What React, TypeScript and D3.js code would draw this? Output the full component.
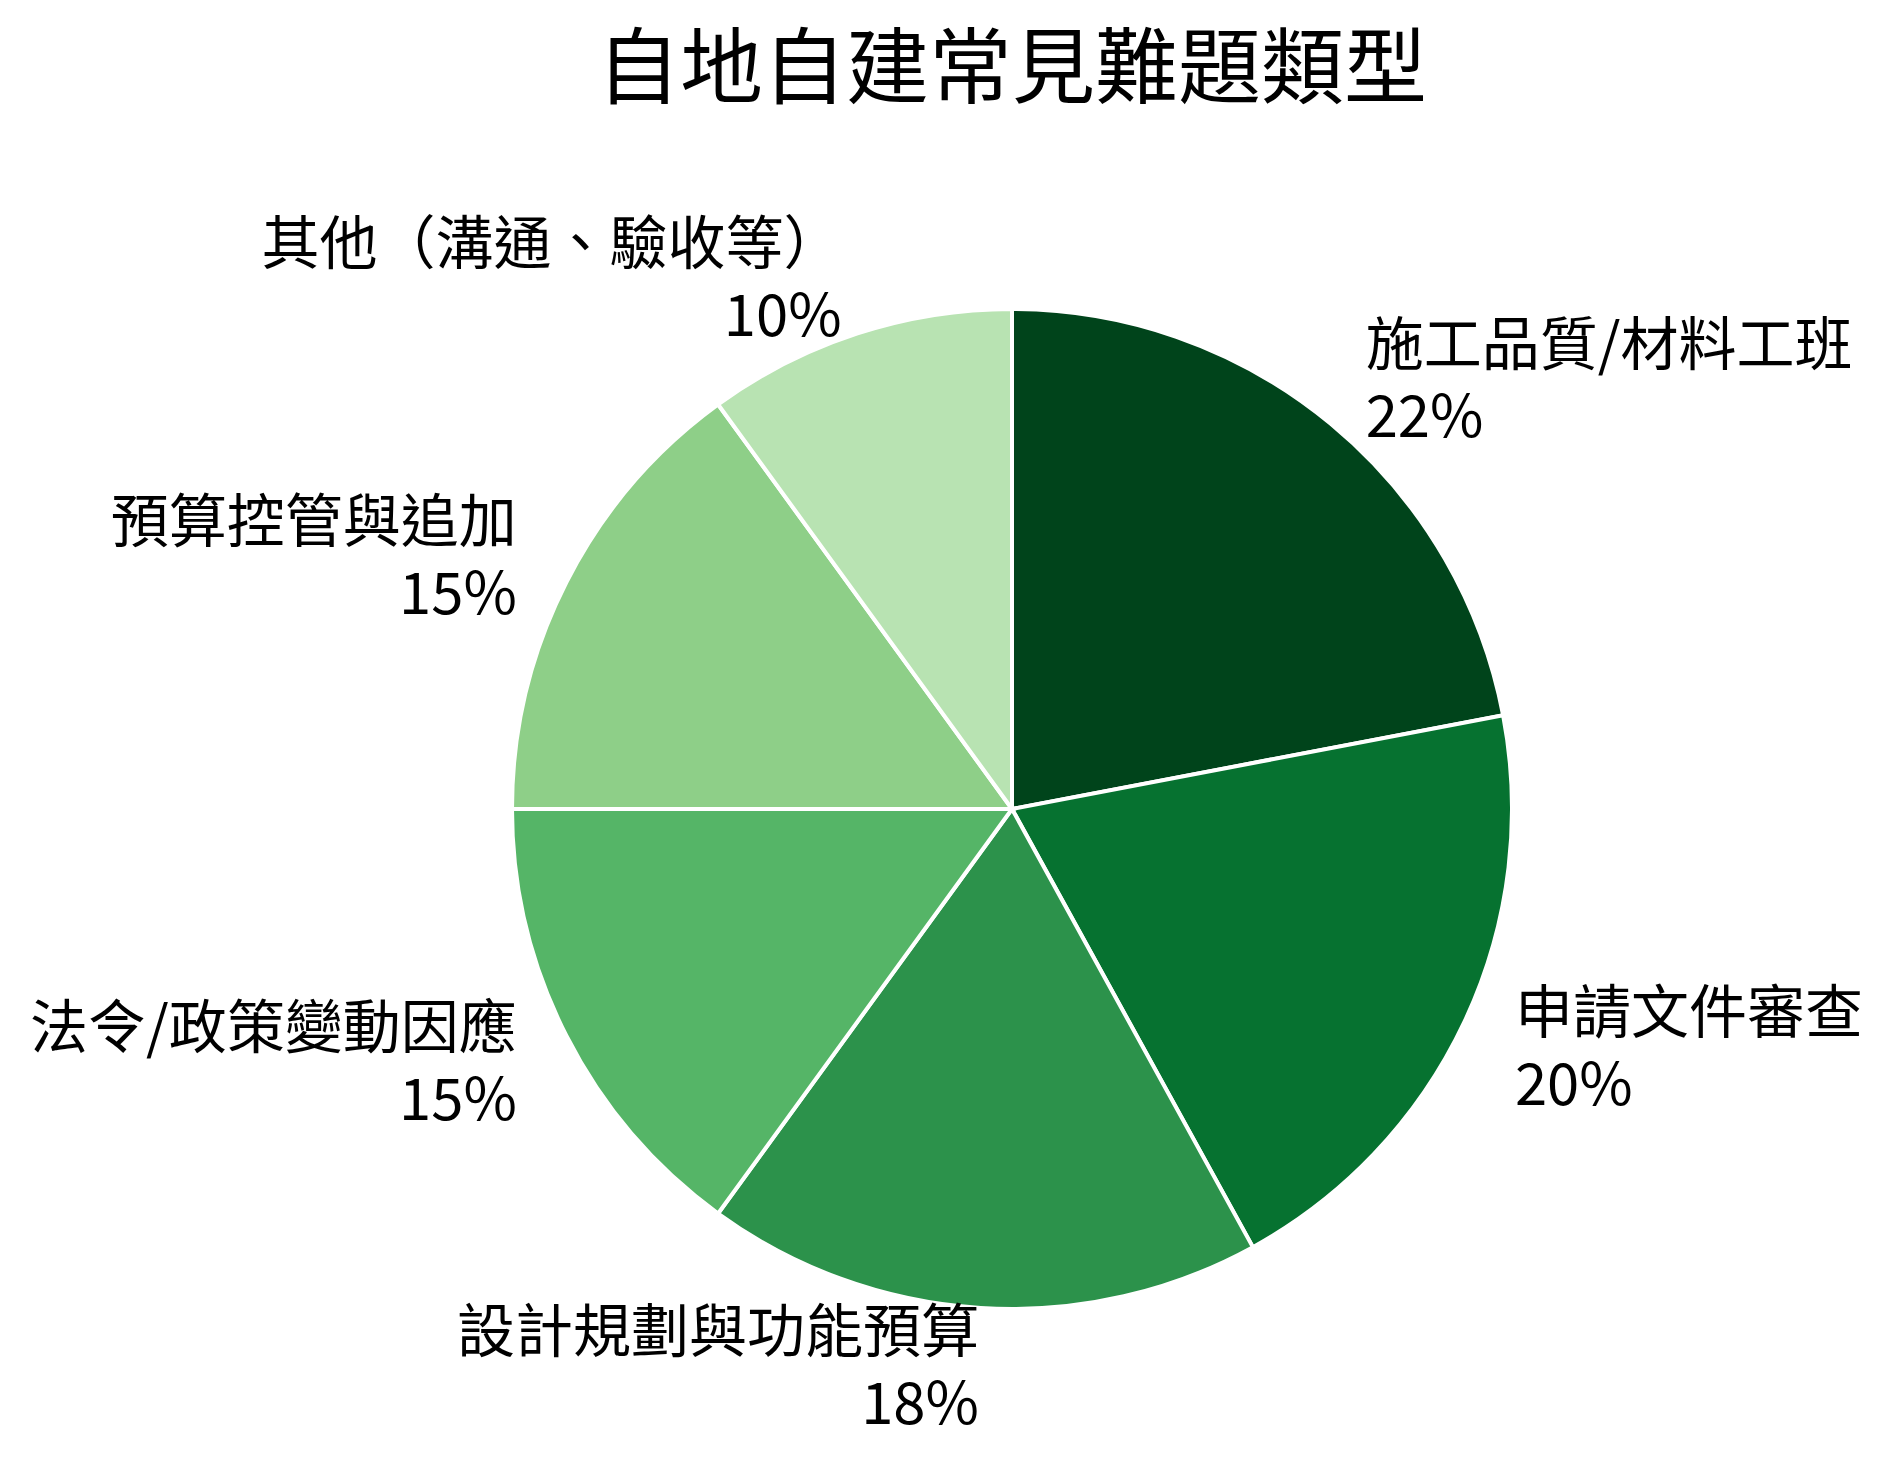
import { arc as d3_arc, pie as d3_pie } from "d3"

const title = "自地自建常見難題類型"
const categories = [
  "施工品質/材料工班",
  "申請文件審查",
  "設計規劃與功能預算",
  "法令/政策變動因應",
  "預算控管與追加",
  "其他（溝通、驗收等）",
]
const shares = [22, 20, 18, 15, 15, 10]
const colors = ["#00441b", "#067230", "#2c924b", "#55b567", "#8ecf88", "#b8e3b2"]

const width = 1893
const height = 1468
const cx = 1012
const cy = 809
const radius = 500
const labelRadius = 558
const font = "'Noto Sans CJK TC', 'Noto Sans CJK SC', sans-serif"

export default function App() {
  const rows = categories.map((name, i) => ({ name, value: shares[i], color: colors[i] }))

  const slices = d3_pie<(typeof rows)[number]>()
    .sort(null)
    .value((d) => d.value)(rows)

  const arc = d3_arc<any>().innerRadius(0).outerRadius(radius)
  const labelArc = d3_arc<any>().innerRadius(labelRadius).outerRadius(labelRadius)

  return (
    <svg
      width={width}
      height={height}
      viewBox={`0 0 ${width} ${height}`}
      style={{ position: "absolute", left: 0, top: 0, background: "#fff" }}
      fontFamily={font}
    >
      <text x={1012} y={97} textAnchor="middle" fontSize={83} fill="#000">
        {title}
      </text>

      <g transform={`translate(${cx},${cy})`}>
        {slices.map((s, i) => (
          <path key={i} d={arc(s) ?? ""} fill={s.data.color} stroke="#fff" strokeWidth={4} />
        ))}

        {/* Labels: name on top, share below */}
        {slices.map((s, i) => {
          const [x, y] = labelArc.centroid(s)
          const right = x > 0
          const lx = right ? x - 2 : x + 2
          const anchor = right ? "start" : "end"
          return (
            <g key={i} fontSize={58} fill="#000" textAnchor={anchor}>
              <text x={lx} y={y - 14}>
                {s.data.name}
              </text>
              <text x={lx} y={y + 58}>
                {`${s.data.value}%`}
              </text>
            </g>
          )
        })}
      </g>
    </svg>
  )
}
